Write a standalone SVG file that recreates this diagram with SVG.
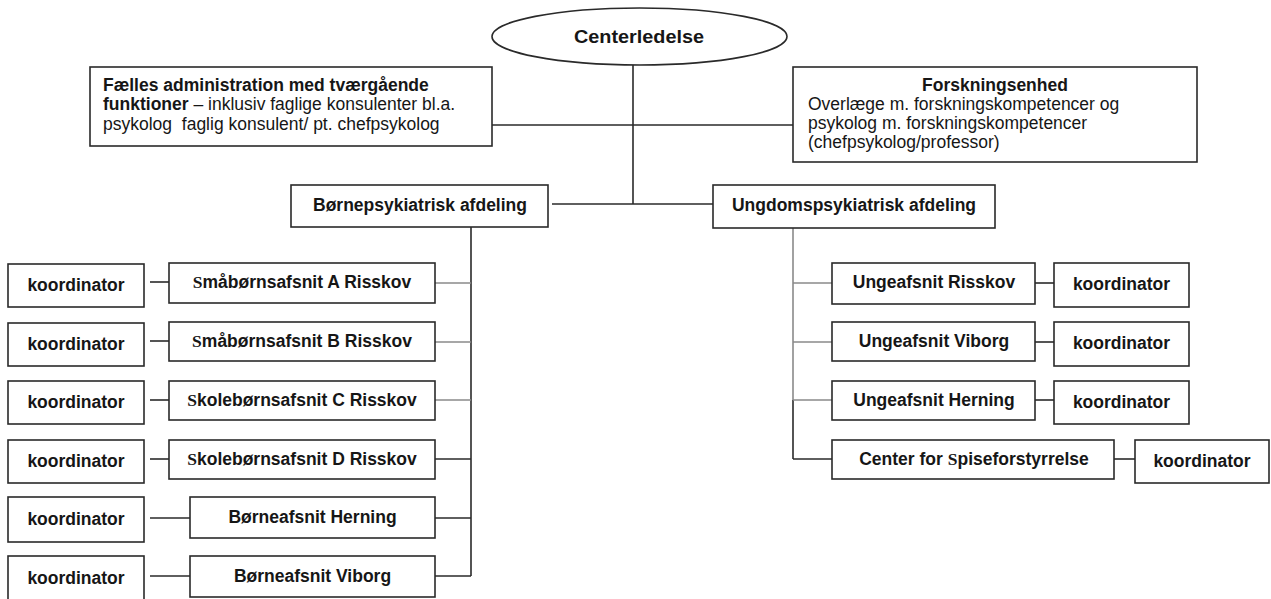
<svg xmlns="http://www.w3.org/2000/svg" width="1271" height="599" viewBox="0 0 1271 599">
<style>
text{font-family:"Liberation Sans",Arial,sans-serif;font-size:17.5px;fill:#161616}
.b{font-weight:bold}
.c{text-anchor:middle}
.s{font-family:"Liberation Serif","Times New Roman",serif}
.box{fill:#fff;stroke:#2a2a2a;stroke-width:1.6}
.ln{stroke:#2a2a2a;stroke-width:1.6;fill:none}
.gr{stroke:#8a8a8a;stroke-width:1.6;fill:none}
</style>
<rect width="1271" height="599" fill="#fff"/>
<g id="connectors">
<line class="ln" x1="633" y1="65" x2="633" y2="204"/>
<line class="ln" x1="492" y1="125" x2="793" y2="125"/>
<line class="ln" x1="552" y1="204" x2="713" y2="204"/>
<line class="ln" x1="471" y1="227" x2="471" y2="576"/>
<line class="gr" x1="435" y1="283" x2="471" y2="283"/>
<line class="gr" x1="435" y1="342" x2="471" y2="342"/>
<line class="gr" x1="435" y1="400" x2="471" y2="400"/>
<line class="ln" x1="435" y1="459" x2="471" y2="459"/>
<line class="ln" x1="435" y1="518" x2="471" y2="518"/>
<line class="ln" x1="435" y1="576" x2="471" y2="576"/>
<line class="ln" x1="150" y1="282" x2="169" y2="282"/>
<line class="ln" x1="150" y1="341" x2="169" y2="341"/>
<line class="ln" x1="150" y1="400" x2="169" y2="400"/>
<line class="ln" x1="150" y1="459" x2="169" y2="459"/>
<line class="ln" x1="150" y1="518" x2="190" y2="518"/>
<line class="ln" x1="150" y1="576" x2="190" y2="576"/>
<line class="gr" x1="793" y1="228" x2="793" y2="400"/>
<line class="ln" x1="793" y1="400" x2="793" y2="459"/>
<line class="gr" x1="793" y1="283" x2="832" y2="283"/>
<line class="gr" x1="793" y1="342" x2="832" y2="342"/>
<line class="gr" x1="793" y1="400" x2="832" y2="400"/>
<line class="ln" x1="793" y1="459" x2="832" y2="459"/>
<line class="ln" x1="1035" y1="283" x2="1054" y2="283"/>
<line class="ln" x1="1035" y1="342" x2="1054" y2="342"/>
<line class="ln" x1="1035" y1="400" x2="1054" y2="400"/>
<line class="ln" x1="1114" y1="459" x2="1135" y2="459"/>
</g>
<g id="centerledelse">
<ellipse class="box" cx="639.5" cy="36.5" rx="147.5" ry="28.5"/>
<text class="b c" x="639" y="43" textLength="130" lengthAdjust="spacingAndGlyphs">Centerledelse</text>
</g>
<g id="faelles">
<rect class="box" x="90" y="67" width="402" height="79"/>
<text x="103" y="90.5"><tspan class="b">Fælles administration med tværgående</tspan></text>
<text x="103" y="110"><tspan class="b">funktioner</tspan> – inklusiv faglige konsulenter bl.a.</text>
<text x="103" y="129.5" xml:space="preserve">psykolog  faglig konsulent/ pt. chefpsykolog</text>
</g>
<g id="forskning">
<rect class="box" x="793" y="67" width="404" height="95"/>
<text class="b c" x="995" y="90.5">Forskningsenhed</text>
<text x="808" y="110">Overlæge m. forskningskompetencer og</text>
<text x="808" y="129">psykolog m. forskningskompetencer</text>
<text x="808" y="148">(chefpsykolog/professor)</text>
</g>
<g id="boerne">
<rect class="box" x="291" y="185" width="257" height="42"/>
<text class="b c" x="420" y="211">Børnepsykiatrisk afdeling</text>
</g>
<g id="ungdom">
<rect class="box" x="713" y="185" width="282" height="43"/>
<text class="b c" x="854" y="211">Ungdomspsykiatrisk afdeling</text>
</g>
<g id="b-a"><rect class="box" x="169" y="263" width="266" height="40"/><text class="b c" x="302" y="288"><tspan class="s">S</tspan>måbørnsafsnit A Risskov</text></g>
<g id="b-b"><rect class="box" x="169" y="322" width="266" height="39"/><text class="b c" x="302" y="347"><tspan class="s">S</tspan>måbørnsafsnit B Risskov</text></g>
<g id="b-c"><rect class="box" x="169" y="381" width="266" height="39"/><text class="b c" x="302" y="406"><tspan class="s">S</tspan>kolebørnsafsnit C Risskov</text></g>
<g id="b-d"><rect class="box" x="169" y="440" width="266" height="39"/><text class="b c" x="302" y="465"><tspan class="s">S</tspan>kolebørnsafsnit D Risskov</text></g>
<g id="b-herning"><rect class="box" x="190" y="497" width="245" height="41"/><text class="b c" x="312.5" y="523">Børneafsnit Herning</text></g>
<g id="b-viborg"><rect class="box" x="190" y="556" width="245" height="41"/><text class="b c" x="312.5" y="582">Børneafsnit Viborg</text></g>
<g id="k1"><rect class="box" x="8" y="264" width="136" height="43"/><text class="b c" x="76" y="291">koordinator</text></g>
<g id="k2"><rect class="box" x="8" y="323" width="136" height="43"/><text class="b c" x="76" y="350">koordinator</text></g>
<g id="k3"><rect class="box" x="8" y="381" width="136" height="43"/><text class="b c" x="76" y="408">koordinator</text></g>
<g id="k4"><rect class="box" x="8" y="440" width="136" height="43"/><text class="b c" x="76" y="467">koordinator</text></g>
<g id="k5"><rect class="box" x="8" y="497" width="136" height="45"/><text class="b c" x="76" y="525">koordinator</text></g>
<g id="k6"><rect class="box" x="8" y="556" width="136" height="45"/><text class="b c" x="76" y="584">koordinator</text></g>
<g id="u-risskov"><rect class="box" x="832" y="263" width="203" height="41"/><text class="b c" x="934" y="288">Ungeafsnit Risskov</text></g>
<g id="u-viborg"><rect class="box" x="832" y="322" width="203" height="39"/><text class="b c" x="934" y="347">Ungeafsnit Viborg</text></g>
<g id="u-herning"><rect class="box" x="832" y="381" width="203" height="39"/><text class="b c" x="934" y="406">Ungeafsnit Herning</text></g>
<g id="u-spise"><rect class="box" x="832" y="440" width="282" height="39"/><text class="b c" x="974" y="465">Center for <tspan class="s">S</tspan>piseforstyrrelse</text></g>
<g id="k7"><rect class="box" x="1054" y="263" width="135" height="44"/><text class="b c" x="1121.5" y="290">koordinator</text></g>
<g id="k8"><rect class="box" x="1054" y="322" width="135" height="44"/><text class="b c" x="1121.5" y="349">koordinator</text></g>
<g id="k9"><rect class="box" x="1054" y="381" width="135" height="43"/><text class="b c" x="1121.5" y="408">koordinator</text></g>
<g id="k10"><rect class="box" x="1135" y="440" width="134" height="43"/><text class="b c" x="1202" y="467">koordinator</text></g>
</svg>
